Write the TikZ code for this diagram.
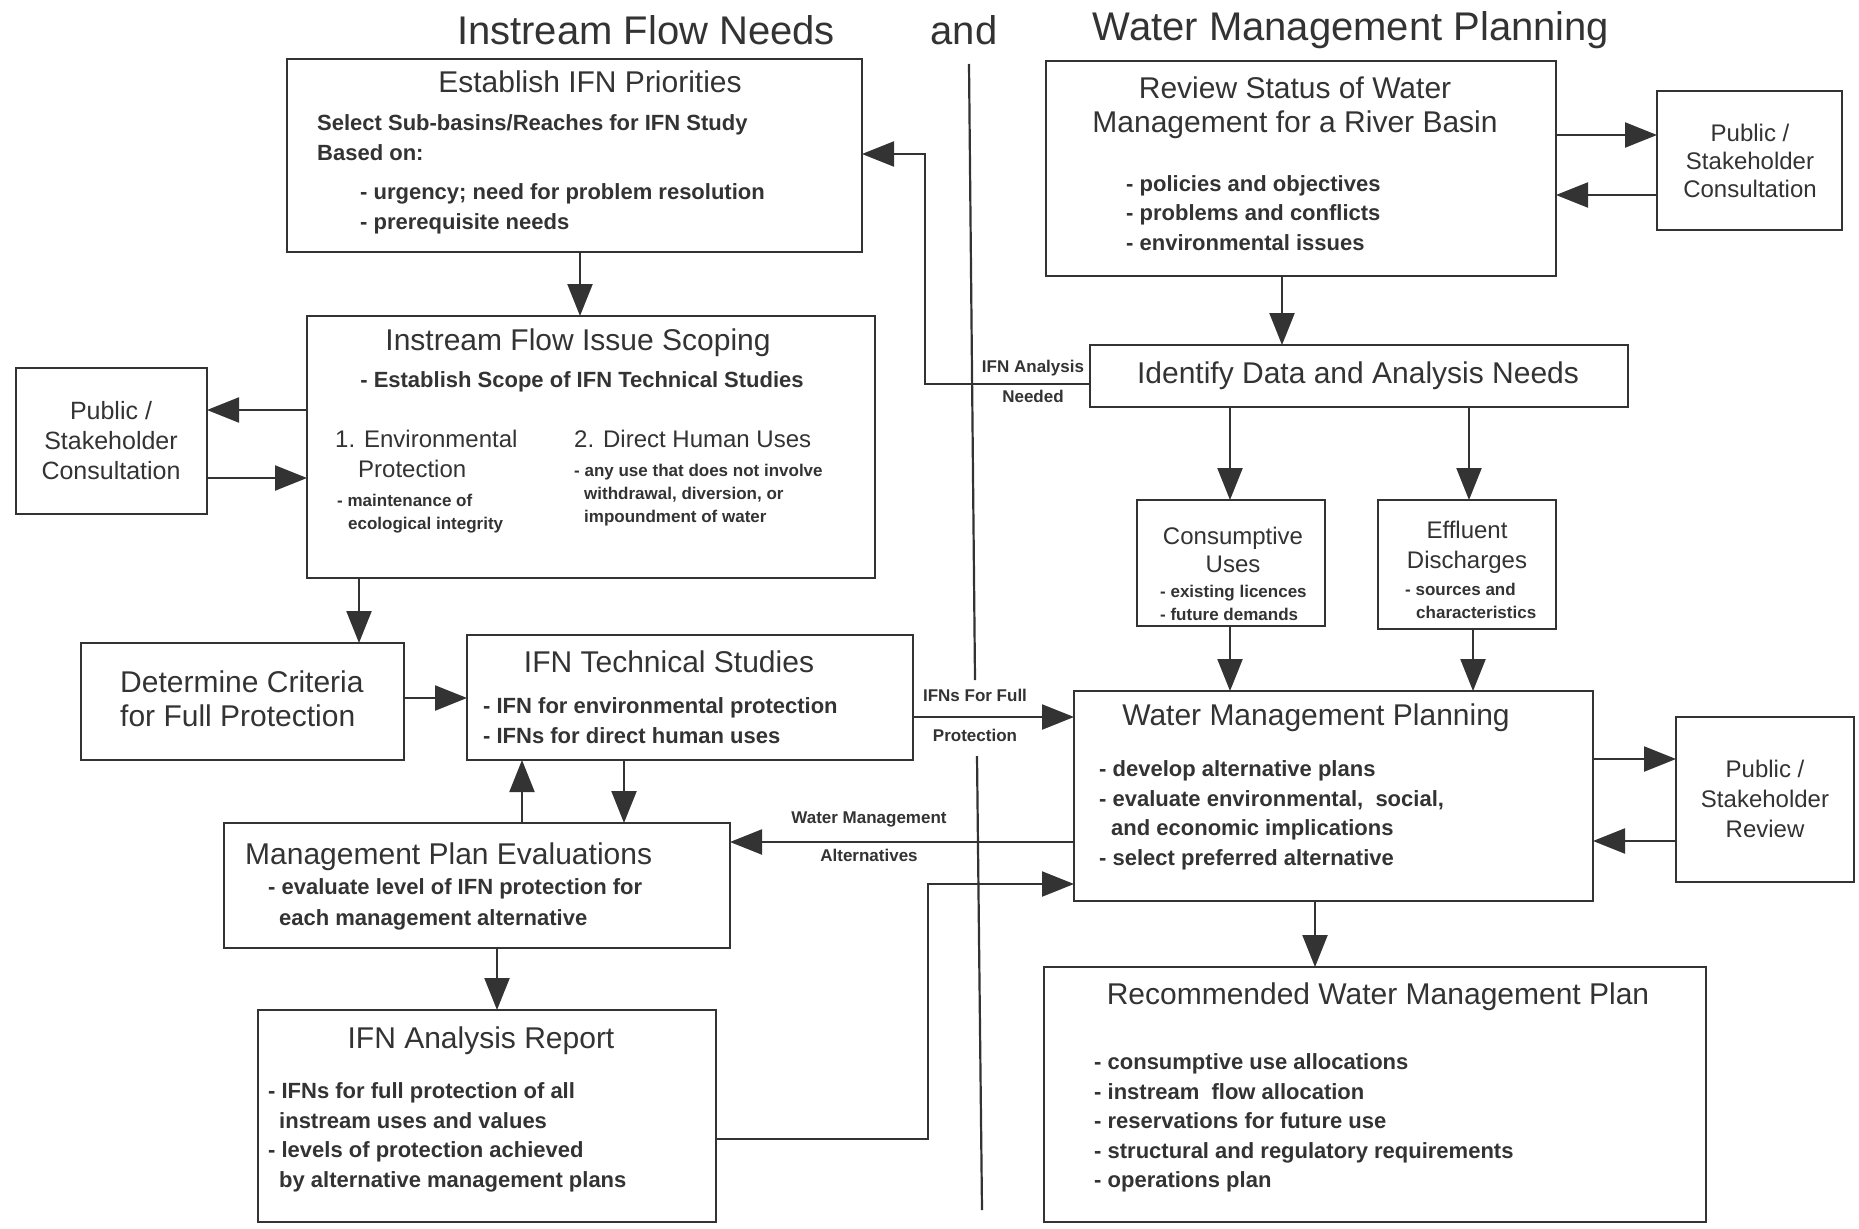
\documentclass[tikz,border=0pt]{standalone}
\usepackage{fontspec}
\setmainfont{Liberation Sans}
\usetikzlibrary{arrows.meta}
\definecolor{ink}{gray}{0.2}

\begin{document}
\begin{tikzpicture}[x=1pt,y=-1pt]
      % Define styles for boxes, texts and connections
      \tikzstyle{box} = [anchor=north west, draw=ink, rectangle, line width=2.6pt,
      inner sep=0pt, outer sep=0pt]
      \tikzstyle{bigtitle} = [font=\fontsize{40}{44}\selectfont, text=ink, inner sep=0pt]
      \tikzstyle{boxtitle} = [font=\fontsize{30}{34}\selectfont, text=ink, inner sep=0pt, align=center]
      \tikzstyle{sidetext} = [font=\fontsize{24}{29.5}\selectfont, text=ink, inner sep=0pt, align=center]
      \tikzstyle{bullets} = [font=\bfseries\fontsize{22}{29.5}\selectfont, text=ink, inner sep=0pt,
      anchor=west, align=left]
      \tikzstyle{smalltext} = [font=\bfseries\fontsize{17}{23}\selectfont, text=ink, inner sep=0pt, align=left]
      \tikzstyle{flow} = [draw=ink, line width=2.2pt, -{Triangle[length=32pt,width=25pt]}]

      \fill[white] (0,0) rectangle (1859,1228);
      \useasboundingbox (0,0) rectangle (1859,1228);

      % Titles at top
      \node[bigtitle] (tInstream) at (646,30) {Instream Flow Needs};
      \node[bigtitle] (tAnd) at (964,30) {and};
      \node[bigtitle] (tWater) at (1351,30) {Water Management Planning};

      % Dividing line
      \draw[ink, line width=2.2pt] (969,64) -- (975,680);
      \draw[ink, line width=2.2pt] (977,756) -- (982,1210);

      % Instream flow side
      \node[box, minimum width=575pt, minimum height=193pt] (est) at (287,59) {};
      \node[boxtitle] (estT) at (590,82) {Establish IFN Priorities};
      \node[bullets] (estA) at (317,137.5) {Select Sub-basins/Reaches for IFN Study\\Based on:};
      \node[bullets] (estB) at (360,209) {- urgency; need for problem resolution\\- prerequisite needs};

      \node[box, minimum width=568pt, minimum height=262pt] (scope) at (307,316) {};
      \node[boxtitle] (scopeT) at (578,343) {Instream Flow Issue Scoping};
      \node[bullets, anchor=center] (scopeA) at (582,382) {- Establish Scope of IFN Technical Studies};
      \node[sidetext, anchor=west, align=left] (scopeB) at (335,454) {1. Environmental\\\hspace*{23pt}Protection};
      \node[smalltext, anchor=west] (scopeC) at (337,513.5) {- maintenance of\\\hspace*{11pt}ecological integrity};
      \node[sidetext, anchor=west] (scopeD) at (574,439) {2. Direct Human Uses};
      \node[smalltext, anchor=west] (scopeE) at (574,495) {- any use that does not involve\\\hspace*{10pt}withdrawal, diversion, or\\\hspace*{10pt}impoundment of water};

      \node[box, minimum width=191pt, minimum height=146pt] (pubL) at (16,368) {};
      \node[sidetext, font=\fontsize{25}{30}\selectfont] (pubLT) at (111,441) {Public /\\Stakeholder\\Consultation};

      \node[box, minimum width=323pt, minimum height=117pt] (crit) at (81,643) {};
      \node[boxtitle, anchor=west, align=left] (critT) at (120,699) {Determine Criteria\\for Full Protection};

      \node[box, minimum width=446pt, minimum height=125pt] (tech) at (467,635) {};
      \node[boxtitle] (techT) at (669,662) {IFN Technical Studies};
      \node[bullets] (techA) at (483,720.5) {- IFN for environmental protection\\- IFNs for direct human uses};

      \node[box, minimum width=506pt, minimum height=125pt] (eval) at (224,823) {};
      \node[boxtitle, anchor=west] (evalT) at (245,857) {Management Plan Evaluations};
      \node[bullets, font=\bfseries\fontsize{22}{31}\selectfont] (evalA) at (268,904) {- evaluate level of IFN protection for\\\hspace*{11pt}each management alternative};

      \node[box, minimum width=458pt, minimum height=212pt] (report) at (258,1010) {};
      \node[boxtitle] (reportT) at (481,1041) {IFN Analysis Report};
      \node[bullets] (reportA) at (268,1137.5) {- IFNs for full protection of all\\\hspace*{11pt}instream uses and values\\- levels of protection achieved\\\hspace*{11pt}by alternative management plans};

      % Water management side
      \node[box, minimum width=510pt, minimum height=215pt] (review) at (1046,61) {};
      \node[boxtitle] (reviewT) at (1295,108) {Review Status of Water\\Management for a River Basin};
      \node[bullets] (reviewA) at (1126,213) {- policies and objectives\\- problems and conflicts\\- environmental issues};

      \node[box, minimum width=185pt, minimum height=139pt] (pubR) at (1657,91) {};
      \node[sidetext, font=\fontsize{24}{28}\selectfont] (pubRT) at (1750,161) {Public /\\Stakeholder\\Consultation};

      \node[box, minimum width=538pt, minimum height=62pt] (ident) at (1090,345) {};
      \node[boxtitle] (identT) at (1358,376) {Identify Data and Analysis Needs};

      \node[box, minimum width=188pt, minimum height=126pt] (consump) at (1137,500) {};
      \node[sidetext, font=\fontsize{24}{28}\selectfont] (consumpT) at (1233,550) {Consumptive\\Uses};
      \node[smalltext, anchor=west] (consumpA) at (1160,602.5) {- existing licences\\- future demands};

      \node[box, minimum width=178pt, minimum height=129pt] (effl) at (1378,500) {};
      \node[sidetext, font=\fontsize{24}{30}\selectfont] (efflT) at (1467,547) {Effluent\\Discharges};
      \node[smalltext, anchor=west] (efflA) at (1405,601) {- sources and\\\hspace*{11pt}characteristics};

      \node[box, minimum width=519pt, minimum height=210pt] (wmp) at (1074,691) {};
      \node[boxtitle] (wmpT) at (1316,718) {Water Management Planning};
      \node[bullets] (wmpA) at (1099,815.5) {- develop alternative plans\\- evaluate environmental,\ \ social,\\\hspace*{12pt}and economic implications\\- select preferred alternative};

      \node[box, minimum width=178pt, minimum height=165pt] (pubRev) at (1676,717) {};
      \node[sidetext, font=\fontsize{24}{30}\selectfont] (pubRevT) at (1765,799) {Public /\\Stakeholder\\Review};

      \node[box, minimum width=662pt, minimum height=255pt] (recom) at (1044,967) {};
      \node[boxtitle] (recomT) at (1378,997) {Recommended Water Management Plan};
      \node[bullets] (recomA) at (1094,1123) {- consumptive use allocations\\- instream\ \ flow allocation\\- reservations for future use\\- structural and regulatory requirements\\- operations plan};

      % Labels on connections
      \node[smalltext, align=center] (lblNeeded) at (1033,381) {IFN Analysis\\[7pt]Needed};
      \node[smalltext, align=center] (lblFull) at (975,715) {IFNs For Full\\[17pt]Protection};
      \node[smalltext, align=center] (lblAlt) at (869,837) {Water Management\\[15pt]Alternatives};

      % Connections
      \draw[flow] (580,0 |- est.south) -- (580,0 |- scope.north);
      \draw[flow] (scope.west |- 0,410) -- (pubL.east |- 0,410);
      \draw[flow] (pubL.east |- 0,478) -- (scope.west |- 0,478);
      \draw[flow] (359,0 |- scope.south) -- (359,0 |- crit.north);
      \draw[flow] (crit.east |- 0,698) -- (tech.west |- 0,698);
      \draw[flow] (522,0 |- eval.north) -- (522,0 |- tech.south);
      \draw[flow] (624,0 |- tech.south) -- (624,0 |- eval.north);
      \draw[flow] (497,0 |- eval.south) -- (497,0 |- report.north);

      \draw[flow] (review.east |- 0,135) -- (pubR.west |- 0,135);
      \draw[flow] (pubR.west |- 0,195) -- (review.east |- 0,195);
      \draw[flow] (1282,0 |- review.south) -- (1282,0 |- ident.north);
      \draw[flow] (1230,0 |- ident.south) -- (1230,0 |- consump.north);
      \draw[flow] (1469,0 |- ident.south) -- (1469,0 |- effl.north);
      \draw[flow] (1230,0 |- consump.south) -- (1230,0 |- wmp.north);
      \draw[flow] (1473,0 |- effl.south) -- (1473,0 |- wmp.north);
      \draw[flow] (wmp.east |- 0,759) -- (pubRev.west |- 0,759);
      \draw[flow] (pubRev.west |- 0,841) -- (wmp.east |- 0,841);
      \draw[flow] (1315,0 |- wmp.south) -- (1315,0 |- recom.north);

      % Crossing connections
      \draw[flow] (ident.west |- 0,384) -| (925,154) -- (est.east |- 0,154);
      \draw[flow] (tech.east |- 0,717) -- (wmp.west |- 0,717);
      \draw[flow] (wmp.west |- 0,842) -- (eval.east |- 0,842);
      \draw[flow] (report.east |- 0,1139) -| (928,884) -- (wmp.west |- 0,884);
\end{tikzpicture}
\end{document}
